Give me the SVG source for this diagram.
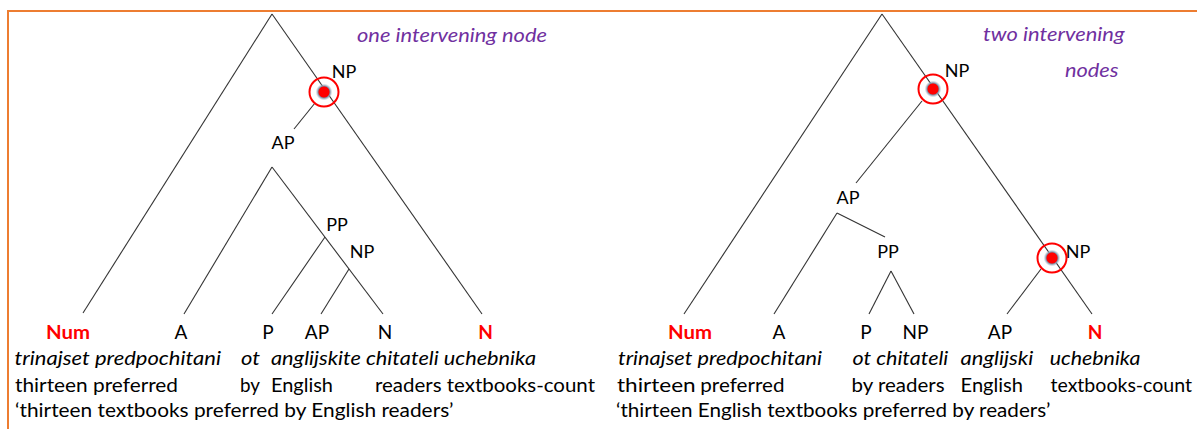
<svg xmlns="http://www.w3.org/2000/svg" width="1197" height="429" viewBox="0 0 1197 429">
<defs>
<radialGradient id="halo" cx="0.5" cy="0.5" r="0.5">
<stop offset="0" stop-color="#FF0000"/>
<stop offset="0.6" stop-color="#FF0000"/>
<stop offset="0.7" stop-color="#7d90a6"/>
<stop offset="1" stop-color="#b9c5d2" stop-opacity="0"/>
</radialGradient>
<style>
.edge{stroke:#333;stroke-width:1.1;fill:none}
.ring{fill:none;stroke:#FF0000;stroke-width:2}
.lbl{font-family:Lato,'Liberation Sans',sans-serif;font-size:18px;fill:#000;text-anchor:middle}
.leaf{font-size:19px}
.red{fill:#FF0000;font-weight:bold}
.row{font-family:Lato,'Liberation Sans',sans-serif;font-size:19.5px;fill:#000}
.it{font-style:italic}
.title{font-family:Lato,'Liberation Sans',sans-serif;font-size:19.5px;font-style:italic;fill:#7030A0}
</style>
</defs>
<rect width="1197" height="429" fill="#fff"/>
<path d="M8,429 V11 H1197" fill="none" stroke="#ED7D31" stroke-width="2"/>

<g id="connectors">
<!-- left tree -->
<line class="edge" x1="272" y1="14" x2="83" y2="313"/>
<line class="edge" x1="272" y1="14" x2="482" y2="314"/>
<line class="edge" x1="315" y1="103" x2="294" y2="129"/>
<line class="edge" x1="272" y1="167" x2="184" y2="314"/>
<line class="edge" x1="272" y1="167" x2="383" y2="314"/>
<line class="edge" x1="325" y1="237" x2="272" y2="314"/>
<line class="edge" x1="349" y1="269" x2="321" y2="314"/>
<!-- right tree -->
<line class="edge" x1="882" y1="14" x2="684" y2="314"/>
<line class="edge" x1="882" y1="14" x2="1092" y2="314"/>
<line class="edge" x1="922" y1="101" x2="856" y2="183"/>
<line class="edge" x1="837" y1="213" x2="774" y2="314"/>
<line class="edge" x1="837" y1="213" x2="885" y2="237"/>
<line class="edge" x1="891" y1="271" x2="869" y2="314"/>
<line class="edge" x1="891" y1="271" x2="914" y2="314"/>
<line class="edge" x1="1041" y1="269" x2="1007" y2="314"/>
</g>

<g id="left-np">
<circle cx="324" cy="92" r="8.5" fill="url(#halo)"/>
<circle class="ring" cx="324" cy="92" r="14.5"/>
<text class="lbl" x="344" y="78">NP</text>
</g>
<g id="left-ap"><text class="lbl" x="283" y="149">AP</text></g>
<g id="left-pp"><text class="lbl" x="337" y="231">PP</text></g>
<g id="left-np2"><text class="lbl" x="362" y="258">NP</text></g>

<g id="right-np">
<circle cx="933" cy="89" r="8.5" fill="url(#halo)"/>
<circle class="ring" cx="933" cy="89" r="14.5"/>
<text class="lbl" x="957" y="77">NP</text>
</g>
<g id="right-ap"><text class="lbl" x="848" y="204">AP</text></g>
<g id="right-pp"><text class="lbl" x="888" y="258">PP</text></g>
<g id="right-np2">
<circle cx="1052" cy="258" r="8.5" fill="url(#halo)"/>
<circle class="ring" cx="1052" cy="258" r="14.5"/>
<text class="lbl" x="1078" y="258">NP</text>
</g>

<g id="titles">
<text class="title" x="357" y="42" textLength="190" lengthAdjust="spacingAndGlyphs">one intervening node</text>
<text class="title" x="983" y="41" textLength="141.5" lengthAdjust="spacingAndGlyphs">two intervening</text>
<text class="title" x="1065" y="77" textLength="53.5" lengthAdjust="spacingAndGlyphs">nodes</text>
</g>

<g id="left-leaves">
<text class="lbl leaf red" x="68" y="339" textLength="44" lengthAdjust="spacingAndGlyphs">Num</text>
<text class="lbl leaf" x="181" y="339">A</text>
<text class="lbl leaf" x="268" y="339">P</text>
<text class="lbl leaf" x="317" y="339">AP</text>
<text class="lbl leaf" x="385" y="339">N</text>
<text class="lbl leaf red" x="485.5" y="339">N</text>
</g>
<g id="left-words">
<text class="row it" x="14.5" y="365" textLength="206.5" lengthAdjust="spacingAndGlyphs">trinajset predpochitani</text>
<text class="row it" x="241" y="365" textLength="19" lengthAdjust="spacingAndGlyphs">ot</text>
<text class="row it" x="271" y="365" textLength="265" lengthAdjust="spacingAndGlyphs">anglijskite chitateli uchebnika</text>
<text class="row" x="15" y="392" textLength="163" lengthAdjust="spacingAndGlyphs">thirteen preferred</text>
<text class="row" x="240" y="392" textLength="20" lengthAdjust="spacingAndGlyphs">by</text>
<text class="row" x="271" y="392" textLength="62" lengthAdjust="spacingAndGlyphs">English</text>
<text class="row" x="375" y="392" textLength="220" lengthAdjust="spacingAndGlyphs">readers textbooks-count</text>
<text class="row" x="15" y="417" textLength="438.5" lengthAdjust="spacingAndGlyphs">‘thirteen textbooks preferred by English readers’</text>
</g>

<g id="right-leaves">
<text class="lbl leaf red" x="690" y="339" textLength="44" lengthAdjust="spacingAndGlyphs">Num</text>
<text class="lbl leaf" x="779" y="339">A</text>
<text class="lbl leaf" x="866" y="339">P</text>
<text class="lbl leaf" x="915.5" y="339">NP</text>
<text class="lbl leaf" x="1000" y="339">AP</text>
<text class="lbl leaf red" x="1095" y="339">N</text>
</g>
<g id="right-words">
<text class="row it" x="618" y="365" textLength="204" lengthAdjust="spacingAndGlyphs">trinajset predpochitani</text>
<text class="row it" x="852.6" y="365" textLength="95.7" lengthAdjust="spacingAndGlyphs">ot chitateli</text>
<text class="row it" x="960.6" y="365" textLength="72.7" lengthAdjust="spacingAndGlyphs">anglijski</text>
<text class="row it" x="1049.7" y="365" textLength="90.7" lengthAdjust="spacingAndGlyphs">uchebnika</text>
<text class="row" x="617" y="392" textLength="78.7" lengthAdjust="spacingAndGlyphs">thirteen</text>
<text class="row" x="700.3" y="392" textLength="84.2" lengthAdjust="spacingAndGlyphs">preferred</text>
<text class="row" x="851.5" y="392" textLength="93" lengthAdjust="spacingAndGlyphs">by readers</text>
<text class="row" x="960.6" y="392" textLength="62.4" lengthAdjust="spacingAndGlyphs">English</text>
<text class="row" x="1050.5" y="392" textLength="141.5" lengthAdjust="spacingAndGlyphs">textbooks-count</text>
<text class="row" x="616" y="417" textLength="434.5" lengthAdjust="spacingAndGlyphs">‘thirteen English textbooks preferred by readers’</text>
</g>
</svg>
